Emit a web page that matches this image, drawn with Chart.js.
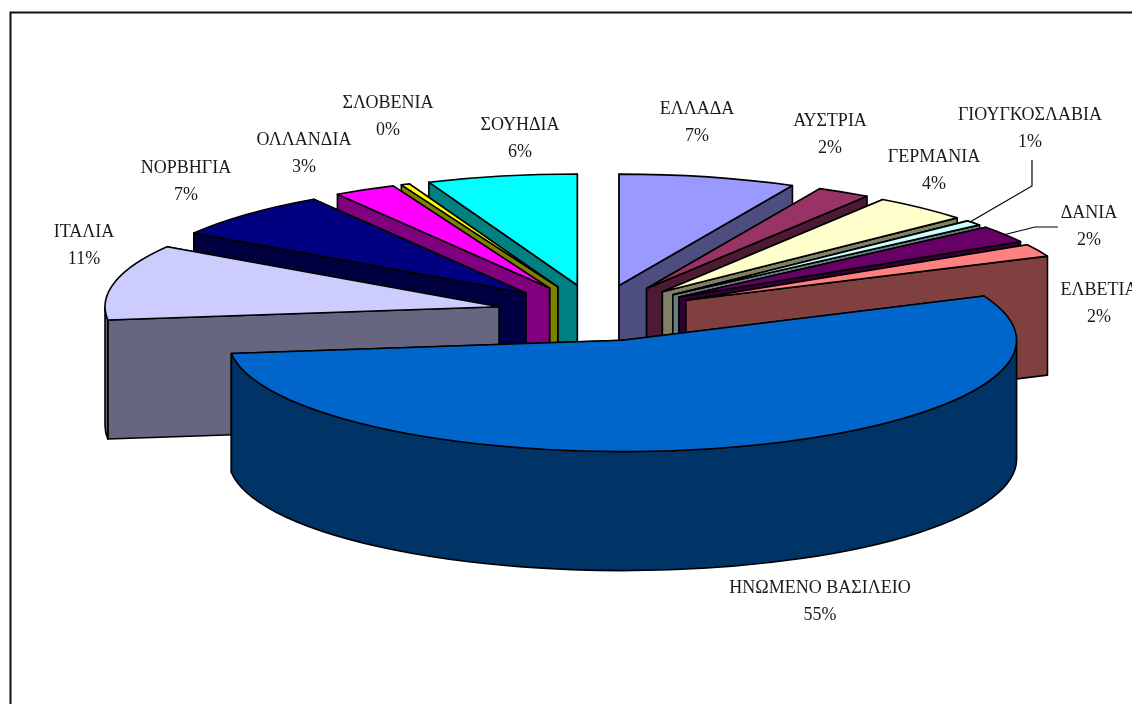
<!DOCTYPE html>
<html lang="el">
<head>
<meta charset="utf-8">
<title>Πίτα</title>
<script src="https://cdn.jsdelivr.net/npm/chart.js@4"></script>
<style>
html,body{margin:0;padding:0;background:#fff;overflow:hidden}
canvas{display:block}
</style>
</head>
<body>
<canvas id="c" width="1132" height="704"></canvas>
<script>
const categories = ["ΕΛΛΑΔΑ","ΑΥΣΤΡΙΑ","ΓΕΡΜΑΝΙΑ","ΓΙΟΥΓΚΟΣΛΑΒΙΑ","ΔΑΝΙΑ","ΕΛΒΕΤΙΑ","ΗΝΩΜΕΝΟ ΒΑΣΙΛΕΙΟ","ΙΤΑΛΙΑ","ΝΟΡΒΗΓΙΑ","ΟΛΛΑΝΔΙΑ","ΣΛΟΒΕΝΙΑ","ΣΟΥΗΔΙΑ"];
const shares = [7.25,2.2,4,0.75,2.49,1.81,54.6,10.95,6.9,2.55,0.35,6.15];
const topColors = ["#9999FF","#993366","#FFFFCC","#CCFFFF","#660066","#FF8080","#0066CC","#CCCCFF","#000080","#FF00FF","#FFFF00","#00FFFF"];
const sideColors = ["#4D4D80","#4D1A33","#808066","#668080","#330033","#804040","#003366","#666680","#000040","#800080","#808000","#008080"];
const labelCentres = [[697,109],[830,121],[934,157],[1030,115],[1089,213],[1099,290],[820,588],[84,232],[186,168],[304,140],[388,103],[520,125]];
const leaderLines = [
  [[1032,160],[1032,186],[970,222]],
  [[1058,227],[1035,227],[1003,235]]
];
const TILT = 0.2825, DEPTH = 119, EXPLODE = 100, RADIUS = 394;

const pie3d = {
  id:'pie3d',
  beforeDraw(chart){
    const ctx = chart.ctx;
    ctx.save();
    ctx.fillStyle='#fff';
    ctx.fillRect(0,0,chart.width,chart.height);
    ctx.strokeStyle='#111';
    ctx.lineWidth=2;
    ctx.strokeRect(10.5,12.5,1400,1000);
    ctx.restore();
  },
  beforeDatasetDraw(chart,args){
    const ctx = chart.ctx;
    const arcs = args.meta.data;
    const order = arcs.map((a,i)=>i).sort((p,q)=>{
      const mp=(arcs[p].startAngle+arcs[p].endAngle)/2, mq=(arcs[q].startAngle+arcs[q].endAngle)/2;
      return Math.sin(mp)-Math.sin(mq);
    });
    const cy0 = arcs[0].y;
    ctx.save();
    ctx.lineWidth=1.6;
    ctx.lineJoin='round';
    ctx.strokeStyle='#000';
    for(const i of order){
      const arc=arcs[i];
      const s=arc.startAngle,e=arc.endAngle,m=(s+e)/2;
      const R=arc.outerRadius,Ry=R*TILT;
      const dx=Math.cos(m)*EXPLODE, dy=Math.sin(m)*EXPLODE*TILT;
      const cx=arc.x+dx;
      const cy=cy0+dy;
      const px=a=>cx+Math.cos(a)*R, py=a=>cy+Math.sin(a)*Ry;
      ctx.fillStyle=sideColors[i];
      const faces=[s,e].sort((a,b)=>Math.sin(a)-Math.sin(b));
      for(const a of faces){
        ctx.beginPath();
        ctx.moveTo(cx,cy);
        ctx.lineTo(px(a),py(a));
        ctx.lineTo(px(a),py(a)+DEPTH);
        ctx.lineTo(cx,cy+DEPTH);
        ctx.closePath();
        ctx.fill();ctx.stroke();
      }
      const a0=Math.max(s,0),b0=Math.min(e,Math.PI);
      if(a0<b0){
        ctx.beginPath();
        ctx.ellipse(cx,cy,R,Ry,0,a0,b0);
        ctx.lineTo(px(b0),py(b0)+DEPTH);
        ctx.ellipse(cx,cy+DEPTH,R,Ry,0,b0,a0,true);
        ctx.closePath();
        ctx.fill();ctx.stroke();
      }
      ctx.save();
      ctx.translate(dx,cy);
      ctx.scale(1,TILT);
      ctx.translate(0,-cy0);
      arc.draw(ctx);
      ctx.restore();
      ctx.beginPath();
      ctx.moveTo(cx,cy);
      ctx.ellipse(cx,cy,R,Ry,0,s,e);
      ctx.closePath();
      ctx.stroke();
    }
    ctx.restore();
    return false;
  },
  afterDraw(chart){
    const ctx=chart.ctx;
    ctx.save();
    ctx.strokeStyle='#000';
    ctx.lineWidth=1.2;
    for(const l of leaderLines){
      ctx.beginPath();
      l.forEach((p,i)=>i?ctx.lineTo(p[0],p[1]):ctx.moveTo(p[0],p[1]));
      ctx.stroke();
    }
    ctx.fillStyle='#1a1a1a';
    ctx.font='18px "Liberation Serif"';
    ctx.textAlign='center';
    ctx.textBaseline='middle';
    categories.forEach((name,i)=>{
      const [x,y]=labelCentres[i];
      ctx.fillText(name,x,y);
      ctx.fillText(Math.round(shares[i])+'%',x,y+27.5);
    });
    ctx.restore();
  }
};

new Chart(document.getElementById('c'),{
  type:'pie',
  data:{labels:categories,datasets:[{
    data:shares,
    backgroundColor:topColors,
    borderWidth:0,
    radius:RADIUS,
    clip:false
  }]},
  options:{
    responsive:false,
    devicePixelRatio:1,
    animation:false,
    events:[],
    layout:{padding:{left:61,bottom:78}},
    plugins:{legend:{display:false},tooltip:{enabled:false},title:{display:false}}
  },
  plugins:[pie3d]
});
</script>
</body>
</html>
